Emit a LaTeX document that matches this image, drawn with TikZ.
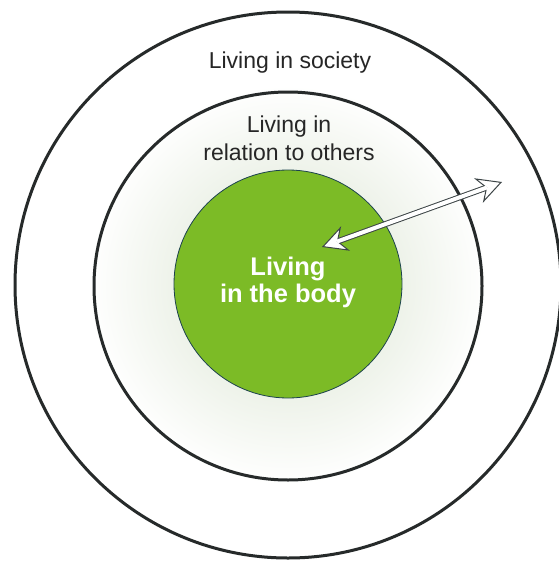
\documentclass[tikz,border=0pt]{standalone}
\usepackage{fontspec}
\setmainfont{Liberation Sans}
\usetikzlibrary{arrows.meta}

\definecolor{ringline}{RGB}{38,42,42}
\definecolor{bodygreen}{RGB}{124,187,38}
\definecolor{bodyedge}{RGB}{28,66,78}
\definecolor{labeltext}{RGB}{38,38,38}
\definecolor{haze}{RGB}{215,226,205}
\definecolor{arrowedge}{RGB}{60,68,70}

\tikzset{
  headtip/.tip={Stealth[length=25pt,width=26pt,inset=8pt,fill=white,line width=1pt]},
  ring/.style={draw=ringline, line width=3pt},
  body/.style={circle, fill=bodygreen, draw=bodyedge, line width=0.8pt,
               minimum size=228pt, inner sep=0pt},
  ringlabel/.style={text=labeltext, align=center,
                    font=\fontsize{23}{28}\selectfont},
  bodylabel/.style={text=white, align=center,
                    font=\bfseries\fontsize{25.5}{27}\selectfont},
  % the two-way arrow is built from an outlined shaft and two open heads
  shaftedge/.style={draw=arrowedge, line width=6pt,
                    shorten <=14pt, shorten >=14pt},
  shaftfill/.style={draw=white, line width=4pt,
                    shorten <=16pt, shorten >=16pt},
  twoheads/.style={draw=arrowedge, line width=1pt, {headtip}-{headtip}}
}

\begin{document}
\begin{tikzpicture}[x=1pt,y=-1pt]
  \useasboundingbox (0,0) rectangle (558,562);
  \fill[white] (0,0) rectangle (558,562);

  % soft halo around the body circle
  \shade[inner color=haze, outer color=white] (288,285) circle (200);

  % society and relations rings
  \draw[ring] (288,285) circle (273);
  \draw[ring] (288,286) circle (194);

  % the body
  \node[body] (body) at (288,284) {};

  % labels
  \node[ringlabel, anchor=base] (society) at (290,68) {Living in society};
  \node[ringlabel] (others) at (289,138.5) {Living in\\relation to others};
  \node[bodylabel] (bodytext) at (288,282) {Living\\in the body};

  % two-way arrow between the body and the outer ring
  \coordinate (inward) at (322,247);
  \coordinate (outward) at (502,182);
  \draw[shaftedge] (inward) -- (outward);
  \draw[twoheads] (inward) -- (outward);
  \draw[shaftfill] (inward) -- (outward);
\end{tikzpicture}
\end{document}
